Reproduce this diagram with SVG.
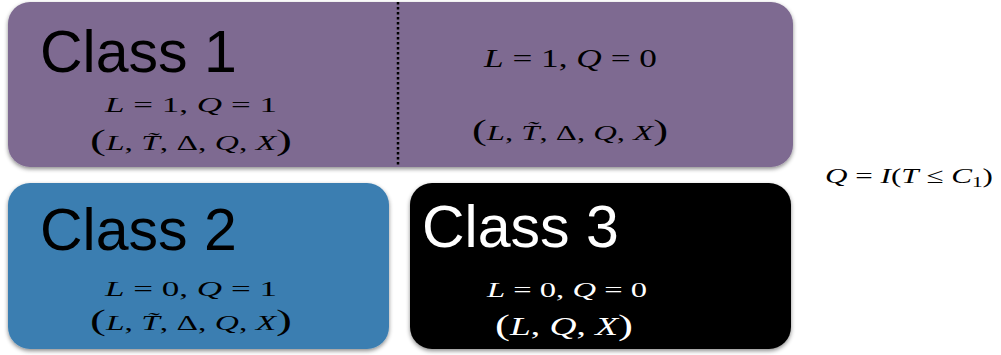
<svg xmlns="http://www.w3.org/2000/svg" width="1001" height="355" viewBox="0 0 1001 355">
<defs>
<filter id="sh" x="-5%" y="-5%" width="110%" height="115%">
<feDropShadow dx="0" dy="2" stdDeviation="2" flood-color="#000" flood-opacity="0.45"/>
</filter>
<style>
.title{font-family:"Liberation Sans",Arial,sans-serif;font-size:59px}
.m{font-family:"Liberation Serif","Times New Roman",serif;fill:#000}
.i{font-style:italic}
.p{font-size:30px}
.w{fill:#fff}
</style>
</defs>
<rect width="1001" height="355" fill="#fff"/>
<g id="class1">
<rect x="8" y="2" width="785" height="165" rx="22" fill="#7e6a91" filter="url(#sh)"/>
<line x1="398" y1="2" x2="398" y2="167" stroke="#000" stroke-width="2.5" stroke-dasharray="2.5,2.5"/>
<text class="title" x="40" y="72">Class 1</text>
<text class="m" x="105" y="112" font-size="21" textLength="172" lengthAdjust="spacingAndGlyphs"><tspan class="i">L</tspan> = 1, <tspan class="i">Q</tspan> = 1</text>
<text class="m" x="90" y="150" font-size="21" textLength="202" lengthAdjust="spacingAndGlyphs"><tspan class="p">(</tspan><tspan class="i">L</tspan>, <tspan class="i">T̃</tspan>, Δ, <tspan class="i">Q</tspan>, <tspan class="i">X</tspan><tspan class="p">)</tspan></text>
</g>
<g id="class1b">
<text class="m" x="484" y="67" font-size="25" textLength="173" lengthAdjust="spacingAndGlyphs"><tspan class="i">L</tspan> = 1, <tspan class="i">Q</tspan> = 0</text>
<text class="m" x="472" y="140" font-size="22" textLength="196" lengthAdjust="spacingAndGlyphs"><tspan class="p">(</tspan><tspan class="i">L</tspan>, <tspan class="i">T̃</tspan>, Δ, <tspan class="i">Q</tspan>, <tspan class="i">X</tspan><tspan class="p">)</tspan></text>
</g>
<g id="class2">
<rect x="8" y="183" width="381" height="166" rx="22" fill="#3b7eb1" filter="url(#sh)"/>
<text class="title" x="40" y="250">Class 2</text>
<text class="m" x="105" y="296" font-size="21" textLength="172" lengthAdjust="spacingAndGlyphs"><tspan class="i">L</tspan> = 0, <tspan class="i">Q</tspan> = 1</text>
<text class="m" x="90" y="330" font-size="21" textLength="202" lengthAdjust="spacingAndGlyphs"><tspan class="p">(</tspan><tspan class="i">L</tspan>, <tspan class="i">T̃</tspan>, Δ, <tspan class="i">Q</tspan>, <tspan class="i">X</tspan><tspan class="p">)</tspan></text>
</g>
<g id="class3">
<rect x="410" y="183" width="381" height="166" rx="22" fill="#000" filter="url(#sh)"/>
<text class="title w" x="422" y="247">Class 3</text>
<text class="m w" x="487" y="297" font-size="20" textLength="160" lengthAdjust="spacingAndGlyphs"><tspan class="i">L</tspan> = 0, <tspan class="i">Q</tspan> = 0</text>
<text class="m w" x="495" y="335" font-size="25" textLength="138" lengthAdjust="spacingAndGlyphs"><tspan class="p">(</tspan><tspan class="i">L</tspan>, <tspan class="i">Q</tspan>, <tspan class="i">X</tspan><tspan class="p">)</tspan></text>
</g>
<g id="note">
<text class="m" x="825" y="183" font-size="22" textLength="168" lengthAdjust="spacingAndGlyphs"><tspan class="i">Q</tspan> = <tspan class="i">I</tspan>(<tspan class="i">T</tspan> ≤ <tspan class="i">C</tspan><tspan font-size="15" dy="4">1</tspan><tspan dy="-4">)</tspan></text>
</g>
<g id="connectors"/>
</svg>
